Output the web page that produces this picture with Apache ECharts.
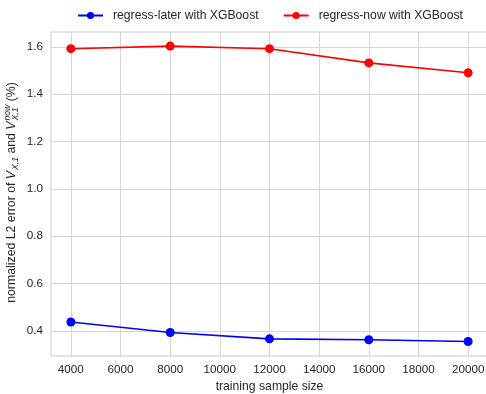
<!DOCTYPE html>
<html>
<head>
<meta charset="utf-8">
<script src="https://cdn.jsdelivr.net/npm/echarts@6/dist/echarts.min.js"></script>
<style>
  html, body { margin: 0; padding: 0; background: #fff; }
  #chart { width: 486px; height: 394px; }
</style>
</head>
<body>
<div id="chart"></div>
<script>
// Training sample sizes and normalized L2 errors (%)
const sampleSizes = [4000, 8000, 12000, 16000, 20000];
const regressLater = [0.437, 0.393, 0.366, 0.362, 0.355];
const regressNow = [1.592, 1.603, 1.592, 1.532, 1.490];
const xTicks = [4000, 6000, 8000, 10000, 12000, 14000, 16000, 18000, 20000];
const yTicks = [0.4, 0.6, 0.8, 1.0, 1.2, 1.4, 1.6];

const FONT = '"Liberation Sans", Arial, sans-serif';
const TEXT = '#262626';
const GRID = '#d6d6d6';

const chart = echarts.init(document.getElementById('chart'), null, { renderer: 'canvas' });

// Measure text widths to lay out the math-style y-axis title
const ctx = document.createElement('canvas').getContext('2d');
function measure(str, size, italic) {
  ctx.font = (italic ? 'italic ' : '') + size + 'px ' + FONT;
  return ctx.measureText(str).width;
}

function buildYTitle() {
  const big = 12.3, small = 8.6;
  const parts = [
    { t: 'normalized L2 error of ', s: big, i: false, dy: 0 },
    { t: 'V', s: big, i: true, dy: 0 },
    { t: 'X,1', s: small, i: true, dy: 3.5 },
    { t: ' and ', s: big, i: false, dy: 0 },
    { t: 'V', s: big, i: true, dy: 0 },
    { t: 'now', s: small, i: true, dy: -4.5, stackWith: 'X,1', stackDy: 3.5 },
    { t: ' (%)', s: big, i: false, dy: 0 }
  ];
  let total = 0;
  parts.forEach(p => {
    let w = measure(p.t, p.s, p.i);
    if (p.stackWith) w = Math.max(w, measure(p.stackWith, p.s, p.i));
    p.w = w + (p.t === 'V' ? 1 : 0);
    total += p.w;
  });
  let x = -total / 2;
  const children = [];
  parts.forEach(p => {
    children.push({
      type: 'text', x: x, y: p.dy,
      style: { text: p.t, font: (p.i ? 'italic ' : '') + p.s + 'px ' + FONT, fill: TEXT, textVerticalAlign: 'middle', textAlign: 'left' }
    });
    if (p.stackWith) {
      children.push({
        type: 'text', x: x, y: p.stackDy,
        style: { text: p.stackWith, font: (p.i ? 'italic ' : '') + p.s + 'px ' + FONT, fill: TEXT, textVerticalAlign: 'middle', textAlign: 'left' }
      });
    }
    x += p.w;
  });
  return { type: 'group', x: 12, y: 192.5, rotation: Math.PI / 2, children: children };
}

const option = {
  backgroundColor: '#ffffff',
  animation: false,
  textStyle: { fontFamily: FONT },
  legend: {
    left: 77, top: 9.5, padding: 0,
    itemWidth: 25, itemHeight: 9, itemGap: 24,
    textStyle: { fontSize: 12.2, color: TEXT, fontFamily: FONT, padding: [0, 0, 0, 5] },
    data: ['regress-later with XGBoost', 'regress-now with XGBoost']
  },
  grid: {
    left: 51, top: 32, width: 437, height: 324,
    outerBoundsMode: 'none', containLabel: false,
    show: true, borderColor: '#cccccc', borderWidth: 1
  },
  xAxis: {
    type: 'value', min: 3200, max: 20800,
    name: 'training sample size', nameLocation: 'middle', nameGap: 23,
    nameTextStyle: { fontSize: 12.2, color: TEXT, fontFamily: FONT },
    axisLine: { show: false },
    axisTick: { show: false, customValues: xTicks },
    axisLabel: { customValues: xTicks, fontSize: 11.7, color: TEXT, fontFamily: FONT, margin: 8,
      formatter: v => String(v) },
    splitLine: { show: true, lineStyle: { color: GRID, width: 1 } }
  },
  yAxis: {
    type: 'value', min: 0.2935, max: 1.6625,
    axisLine: { show: false },
    axisTick: { show: false, customValues: yTicks },
    axisLabel: { customValues: yTicks, fontSize: 11.7, color: TEXT, fontFamily: FONT, margin: 8,
      formatter: v => v.toFixed(1) },
    splitLine: { show: true, lineStyle: { color: GRID, width: 1 } }
  },
  graphic: [buildYTitle()],
  series: [
    {
      name: 'regress-later with XGBoost', type: 'line',
      data: sampleSizes.map((s, i) => [s, regressLater[i]]),
      color: '#0000ff', symbol: 'circle', symbolSize: 9,
      lineStyle: { width: 1.6, color: '#0000ff' }, itemStyle: { color: '#0000ff' }
    },
    {
      name: 'regress-now with XGBoost', type: 'line',
      data: sampleSizes.map((s, i) => [s, regressNow[i]]),
      color: '#ff0000', symbol: 'circle', symbolSize: 9,
      lineStyle: { width: 1.6, color: '#ff0000' }, itemStyle: { color: '#ff0000' }
    }
  ]
};

chart.setOption(option);
</script>
</body>
</html>
